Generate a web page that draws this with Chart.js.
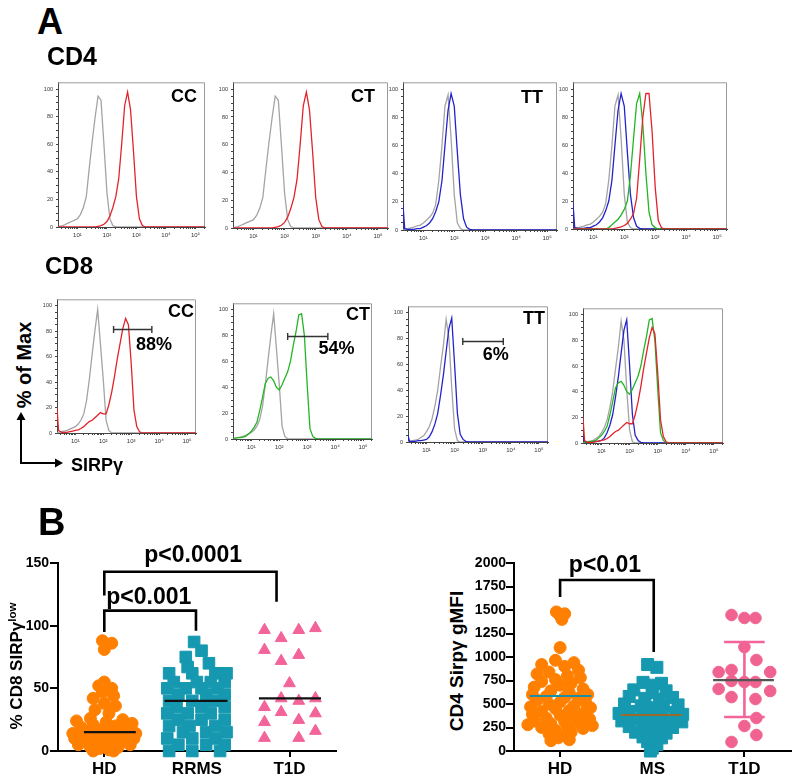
<!DOCTYPE html>
<html>
<head>
<meta charset="utf-8">
<script src="https://cdn.jsdelivr.net/npm/chart.js@4.4.1/dist/chart.umd.min.js"></script>
<style>
body { margin:0; background:#fff; }
#fig { position:relative; width:800px; height:779px; overflow:hidden; font-family:"Liberation Sans", Arial, sans-serif; }
.t { position:absolute; font-weight:bold; line-height:1; white-space:nowrap; color:#000; }
.rot { position:absolute; width:220px; height:24px; line-height:24px; text-align:center; transform:rotate(-90deg); font-weight:bold; white-space:nowrap; color:#000; }
.rot sup { font-size:0.68em; line-height:0; vertical-align:0.55em; }
canvas { position:absolute; }
</style>
</head>
<body>
<div id="fig"></div>
<script>
const FONT = '"Liberation Sans", Arial, sans-serif';
Chart.defaults.font.family = FONT;
Chart.defaults.color = '#000';

// ---------- panel A : histograms (% of max) on log SIRPg channels ----------
const channels = [2.2, 2.5, 3.2, 4, 5, 6.3, 8, 10, 12.6, 15.8, 20, 25, 31.6, 40, 50, 63, 79, 100, 126, 158,
  200, 251, 316, 398, 501, 631, 794, 1000, 1259, 1585, 1995, 2512, 3162, 3981, 5012, 10000, 100000, 210000];

// CD4 row
const grayCD4 = [0, 0.5,1,2,3,4,5,6,9,14,22,42,62,80,95,92,60,25,6,1,0, 0,0,0,0,0,0,0,0,0,0,0,0,0,0, 0,0,0];
const redCD4 = [0, 0,0,0,0,0,0,0,0,0,0,0,0, 0,0.5,1,2,4,8,14,22,35,60,88,98,85,55,22,6,1,0, 0,0,0,0, 0,0,0];
const grayTT = [0, 0.5,1,1.5,2,3,3.5,5,7,9,12,18,35,60,88,96,65,25,5,1,0, 0,0,0,0,0,0,0,0,0,0,0,0,0,0, 0,0,0];
const blueTT = [18, 1,0.5,0.5,0.5,1,1,2,3,5,8,13,20,35,60,85,97,88,55,25,8,2,0.5,0, 0,0,0,0,0,0,0,0,0,0,0, 0,0,0];
const greenCD4 = [0, 0,0,0,0,0,0,0,0,0,0,0, 1,3,5,7,10,14,20,38,65,90,97,75,40,12,3,1,0, 0,0,0,0,0,0, 0,0,0];
const redCD4mix = [0, 0,0,0,0,0,0,0,0,0,0,0,0,0, 0.5,1,1.5,2.5,4,7,11,22,50,80,97,97,70,30,6,1,0, 0,0,0,0, 0,0,0];

// CD8 row
const grayCD8 = [0, 0.5,1,1.5,2,3,4,5,7,10,15,25,42,62,80,97,70,42,10,2,0, 0,0,0,0,0,0,0,0,0,0,0,0,0,0, 0,0,0];
const grayCD8b = [0, 0.5,1,1.5,2,3.5,5,8,12,18,28,40,58,75,95,80,42,10,1,0, 0,0,0,0,0,0,0,0,0,0,0,0,0,0,0, 0,0,0];
const redCD8 = [20, 2,0.5,0.5,0.5,1,1.5,2,2.5,3.5,5,7,9,10,12,14,16,15,15,22,32,44,58,70,82,90,85,55,18,5,1,0, 0,0,0, 0,0,0];
const greenCD8 = [0, 0.5,1,1,1.5,2,4,6,9,13,22,32,43,47,48,45,40,38,42,47,52,60,72,83,96,97,80,42,8,2,0.5,0, 0,0,0, 0,0,0];
const blueCD8 = [5, 0.5,0.5,0.5,1,1,1.5,2,4,8,14,22,36,52,70,88,96,60,22,6,2,0.5,0, 0,0,0,0,0,0,0,0,0,0,0,0, 0,0,0];

// SIRPg-low gates (CD8 row)
const gateFrom = [234, 200, 195];
const gateTo = [5500, 5500, 5400];
const gateLevel = [82, 80, 78];
const gateText = ['88%', '54%', '6%'];
const gateTextX = [6600, 11200, 2900];
const gateTextY = [69, 70, 67];

const powerLabels = { 10: '10¹', 100: '10²', 1000: '10³', 10000: '10⁴', 100000: '10⁵' };

// ---------- panel B : scatter plots ----------
const pctGroups = ['HD', 'RRMS', 'T1D'];
const pctHD = [88,86,81,55,52,50,47,44,42,38,36,33,30,26,25,24,23,22,21,20,19,18,17,16,15,15,14,14,13,12,12,11,11,10,10,9,8,8,7,6,5,5,4,3,3,2,1,0,0];
const pctHDx = [-0.02,0.08,0.0,0.0,-0.06,0.08,-0.02,0.1,-0.12,0.0,0.12,-0.1,0.05,-0.15,0.2,-0.3,0.02,0.3,-0.12,0.12,-0.25,0.25,-0.05,0.06,-0.18,0.18,-0.34,0.34,0.0,-0.25,0.25,-0.1,0.1,-0.32,0.32,0.0,-0.2,0.2,-0.08,0.1,-0.28,0.28,0.0,-0.15,0.15,-0.05,0.05,-0.12,0.1];
const pctRRMS = [87,80,75,70,67, 62,62,62,62, 55,55,55,55, 50,50,50,50, 45,45,45, 40,40,40, 35,35,35, 30,30,30, 25,25,25, 20,20,20, 15,15,15, 10,10,10, 5,5,5, 0,0,0];
const pctRRMSx = [-0.03,0.05,-0.12,0.13,-0.1, -0.3,-0.05,0.2,0.32, -0.25,0.0,0.15,0.3, -0.32,-0.12,0.05,0.22, -0.2,0.1,0.3, -0.3,-0.05,0.18, -0.22,0.05,0.3, -0.32,-0.1,0.15, -0.2,0.05,0.3, -0.3,-0.08,0.2, -0.15,0.1,0.32, -0.32,-0.05,0.2, -0.2,0.1,0.3, -0.3,-0.05,0.25];
const pctT1D = [96.5,90,96.5,98,80.6,76.6,71.8,54,35,42,40,42,31,23,24.7,30,10.4,10.4,16];
const pctT1Dx = [-0.27,-0.09,0.1,0.28,-0.27,0.1,-0.09,0.0,-0.27,-0.09,0.1,0.28,-0.09,-0.27,0.1,0.28,-0.27,0.1,0.28];
const pctMedians = [15, 40, 42];
const pctBrackets = [
  { label: 'p<0.0001', x1: 1, x2: 2.86, top: 143, leftEnd: 124, rightEnd: 119, textX: 1.96, textY: 150.8 },
  { label: 'p<0.001', x1: 1, x2: 1.99, top: 112, leftEnd: 95, rightEnd: 96, textX: 1.48, textY: 117.3 }
];

const mfiGroups = ['HD', 'MS', 'T1D'];
const mfiHD = [1480,1460,1440,1400,1100,965,940,920,900,860,840,820,800,780,760,740,720,700,680,660,640,620,600,600,580,570,560,540,520,510,500,480,470,460,450,430,420,400,390,380,370,350,340,320,310,300,290,280,270,260,250,240,220,200,180,160,140,120,110];
const mfiHDx = [-0.04,0.05,0.0,0.02,0.0,-0.05,0.15,-0.2,0.05,0.2,-0.12,-0.25,0.08,0.22,-0.05,-0.2,0.12,0.0,-0.28,0.25,-0.1,0.1,-0.3,0.3,-0.15,0.05,0.2,-0.25,0.0,0.28,-0.12,0.15,-0.32,0.33,-0.05,0.1,-0.2,0.25,-0.3,0.0,0.15,-0.15,0.32,-0.28,0.05,0.2,-0.1,-0.35,0.35,0.08,-0.2,0.25,-0.05,0.12,-0.12,0.05,-0.02,0.1,-0.1];
const mfiMS = [920,890,730,720,700,650,640,620,580,570,560,550,500,490,480,470,460,420,410,400,390,380,370,360,340,330,320,310,300,290,280,260,250,240,230,200,190,170,150,140,100,70,30,0];
const mfiMSx = [-0.05,0.05,-0.1,0.1,0.0,-0.2,0.15,0.0,-0.25,0.22,-0.08,0.08,-0.3,0.28,-0.12,0.12,0.0,-0.25,0.25,-0.36,0.33,-0.1,0.1,0.0,-0.2,0.2,-0.33,0.32,-0.1,0.08,0.0,-0.25,0.22,-0.08,0.1,-0.18,0.15,0.0,-0.1,0.1,-0.05,0.05,0.0,-0.02];
const mfiT1D = [1447,1415,1415,1106,968,840,862,840,745,734,734,660,638,574,553,351,266,170,96];
const mfiT1Dx = [-0.14,0.0,0.12,0.0,0.13,-0.28,-0.14,0.28,-0.14,0.0,0.12,-0.28,0.28,-0.14,0.12,0.13,0.0,0.13,-0.14];
const mfiMeans = [585, 383, 755];
const mfiT1Dsd = [362, 1160];
const mfiBrackets = [
  { label: 'p<0.01', x1: 1, x2: 2.016, top: 1819, leftEnd: 1638, rightEnd: 1053, textX: 1.487, textY: 1904 }
];

const COLORS = { gray: '#a4a4a4', red: '#e3222b', blue: '#2323cc', green: '#24b524' };
const ORANGE = '#ff8000', TEAL = '#1699b0', PINK = '#f2649a';

const fig = document.getElementById('fig');

function addCanvas(left, top, w, h) {
  const cv = document.createElement('canvas');
  cv.width = w; cv.height = h;
  cv.style.left = left + 'px'; cv.style.top = top + 'px';
  cv.style.width = w + 'px'; cv.style.height = h + 'px';
  fig.appendChild(cv);
  return cv;
}

// ---------- histograms ----------
const YW = 20, XH = 16, PT = 2, PR = 3;

const logTicks = [];
for (let p = 1; p <= 100000; p *= 10) {
  for (let m = 1; m <= 9; m++) {
    const v = m * p;
    if (v >= 2.2 && v <= 210000) logTicks.push(v);
  }
}
const histYTicks = [];
for (let v = 0; v <= 100; v += 5) histYTicks.push(v);

const panelText = {
  id: 'panelText',
  beforeDatasetsDraw(chart) {
    const { ctx, chartArea: a } = chart;
    ctx.save();
    ctx.strokeStyle = '#9a9a9a';
    ctx.lineWidth = 1;
    ctx.beginPath();
    ctx.moveTo(a.left, a.top + 0.5); ctx.lineTo(a.right - 0.5, a.top + 0.5); ctx.lineTo(a.right - 0.5, a.bottom);
    ctx.stroke();
    ctx.restore();
  },
  afterDatasetsDraw(chart, args, opts) {
    const { ctx, chartArea: a, scales: { x, y } } = chart;
    ctx.save();
    ctx.fillStyle = '#000';
    if (opts.label) {
      ctx.font = 'bold 18px ' + FONT;
      ctx.textAlign = 'right';
      ctx.textBaseline = 'alphabetic';
      ctx.fillText(opts.label, a.right - opts.dr, a.top + opts.dt + 13);
    }
    if (opts.gate != null) {
      const g = opts.gate;
      const x1 = x.getPixelForValue(gateFrom[g]), x2 = x.getPixelForValue(gateTo[g]);
      const yy = Math.round(y.getPixelForValue(gateLevel[g])) + 0.5;
      ctx.strokeStyle = '#333';
      ctx.lineWidth = 1.4;
      ctx.beginPath();
      ctx.moveTo(x1, yy); ctx.lineTo(x2, yy);
      ctx.moveTo(x1, yy - 3.5); ctx.lineTo(x1, yy + 3.5);
      ctx.moveTo(x2, yy - 3.5); ctx.lineTo(x2, yy + 3.5);
      ctx.stroke();
      ctx.font = 'bold 18px ' + FONT;
      ctx.textAlign = 'center';
      ctx.textBaseline = 'middle';
      ctx.fillText(gateText[g], x.getPixelForValue(gateTextX[g]), y.getPixelForValue(gateTextY[g]));
    }
    ctx.restore();
  }
};

const histPanels = [
  { box: [58, 78, 205, 227], label: 'CC', dr: 8, dt: 7, curves: [['red', redCD4], ['gray', grayCD4]] },
  { box: [233, 78, 388, 228], label: 'CT', dr: 13, dt: 7, curves: [['red', redCD4], ['gray', grayCD4]] },
  { box: [403, 78, 557, 230], label: 'TT', dr: 14, dt: 8, curves: [['blue', blueTT], ['gray', grayTT]] },
  { box: [573, 78, 727, 229], label: '', curves: [['red', redCD4mix], ['green', greenCD4], ['blue', blueTT], ['gray', grayTT]] },
  { box: [57, 295, 196, 433], label: 'CC', dr: 2, dt: 5, gate: 0, curves: [['red', redCD8], ['gray', grayCD8]] },
  { box: [233, 299, 372, 439], label: 'CT', dr: 2, dt: 4, gate: 1, curves: [['green', greenCD8], ['gray', grayCD8]] },
  { box: [408, 302, 548, 442], label: 'TT', dr: 3, dt: 5, gate: 2, curves: [['blue', blueCD8], ['gray', grayCD8b]] },
  { box: [583, 304, 723, 443], label: '', curves: [['red', redCD8], ['green', greenCD8], ['blue', blueCD8], ['gray', grayCD8b]] }
];

for (const p of histPanels) {
  const [l, t, r, b] = p.box;
  const cv = addCanvas(l - YW, t - PT, r - l + YW + PR, b - t + PT + XH);
  new Chart(cv, {
    type: 'line',
    data: {
      datasets: p.curves.map(([col, vals]) => ({
        data: vals.map((v, i) => ({ x: channels[i], y: v })),
        borderColor: COLORS[col],
        borderWidth: 1.3,
        pointRadius: 0,
        tension: 0,
        fill: false
      }))
    },
    options: {
      responsive: false,
      animation: false,
      events: [],
      layout: { padding: { top: PT, right: PR, left: 0, bottom: 0 } },
      plugins: {
        legend: { display: false },
        tooltip: { enabled: false },
        panelText: { label: p.label, dr: p.dr, dt: p.dt, gate: p.gate }
      },
      scales: {
        x: {
          type: 'logarithmic', min: 2.2, max: 210000,
          afterBuildTicks: s => { s.ticks = logTicks.map(v => ({ value: v })); },
          afterFit: s => { s.height = XH; },
          ticks: { autoSkip: false, maxRotation: 0, padding: 3, color: '#333', font: { size: 6 },
                   callback: v => powerLabels[v] || '' },
          grid: { drawOnChartArea: false, tickLength: 2, color: '#444' },
          border: { color: '#444' }
        },
        y: {
          min: 0, max: 105,
          afterBuildTicks: s => { s.ticks = histYTicks.map(v => ({ value: v })); },
          afterFit: s => { s.width = YW; },
          ticks: { autoSkip: false, padding: 3, color: '#333', font: { size: 5.5 },
                   callback: v => (v % 20 === 0 ? String(v) : '') },
          grid: { drawOnChartArea: false, tickLength: 2, color: '#444' },
          border: { color: '#444' }
        }
      }
    },
    plugins: [panelText]
  });
}

// ---------- dot plots ----------
const bracketText = {
  id: 'bracketText',
  afterDatasetsDraw(chart, args, opts) {
    const { ctx, scales: { x, y } } = chart;
    ctx.save();
    ctx.fillStyle = '#000';
    ctx.font = 'bold 23px ' + FONT;
    ctx.textAlign = 'center';
    ctx.textBaseline = 'alphabetic';
    for (const br of opts.brackets) {
      ctx.fillText(br.label, x.getPixelForValue(br.textX), y.getPixelForValue(br.textY));
    }
    ctx.restore();
  }
};

function pointsOf(vals, jit, center) {
  return vals.map((v, i) => ({ x: center + jit[i], y: v }));
}

function segment(x1, x2, y1, y2, color, width) {
  return {
    type: 'line', data: [{ x: x1, y: y1 }, { x: x2, y: y2 }], borderColor: color, borderWidth: width,
    pointRadius: 0, showLine: true, clip: false, order: 0
  };
}

function bracketSets(list) {
  return list.map(br => ({
    type: 'line',
    data: [{ x: br.x1, y: br.leftEnd }, { x: br.x1, y: br.top }, { x: br.x2, y: br.top }, { x: br.x2, y: br.rightEnd }],
    borderColor: '#000', borderWidth: 2.6, pointRadius: 0, showLine: true, clip: false, order: 0, tension: 0
  }));
}

function dotChart(cv, cfg) {
  return new Chart(cv, {
    type: 'scatter',
    data: { datasets: cfg.datasets },
    options: {
      responsive: false,
      animation: false,
      events: [],
      layout: { padding: { top: 30, right: cfg.padRight, left: 0, bottom: 0 } },
      plugins: { legend: { display: false }, tooltip: { enabled: false }, bracketText: { brackets: cfg.brackets } },
      scales: {
        x: {
          type: 'linear', min: 0.5, max: 3.5,
          afterBuildTicks: s => { s.ticks = [1, 2, 3].map(v => ({ value: v })); },
          afterFit: s => { s.height = 28; },
          ticks: { padding: 2, color: '#000', font: { size: 17, weight: 'bold' },
                   callback: v => cfg.groups[Math.round(v) - 1] },
          grid: { drawOnChartArea: false, tickLength: 6, lineWidth: 2, color: '#000' },
          border: { width: 2, color: '#000' }
        },
        y: {
          min: 0, max: cfg.yMax,
          afterBuildTicks: s => { s.ticks = cfg.yTicks.map(v => ({ value: v })); },
          afterFit: s => { s.width = cfg.yw; },
          ticks: { padding: cfg.yPad, color: '#000', font: { size: 14, weight: 'bold' },
                   callback: v => String(v) },
          grid: { drawOnChartArea: false, tickLength: 8, lineWidth: 2, color: '#000' },
          border: { width: 2, color: '#000' }
        }
      }
    },
    plugins: [bracketText]
  });
}

const dot = (data, color, style, r) => ({
  data, backgroundColor: color, borderColor: color, borderWidth: 1,
  pointStyle: style, pointRadius: r, clip: false, order: 2
});

// left: % CD8 SIRPg low
dotChart(addCanvas(0, 533, 345, 246), {
  groups: pctGroups, yMax: 150, yTicks: [0, 50, 100, 150], yw: 58, yPad: 1, padRight: 5,
  brackets: pctBrackets,
  datasets: [
    dot(pointsOf(pctHD, pctHDx, 1), ORANGE, 'circle', 6),
    dot(pointsOf(pctRRMS, pctRRMSx, 2), TEAL, 'rect', 8.2),
    dot(pointsOf(pctT1D, pctT1Dx, 3), PINK, 'triangle', 6.8),
    segment(0.78, 1.34, pctMedians[0], pctMedians[0], '#111', 2.2),
    segment(1.65, 2.33, pctMedians[1], pctMedians[1], '#111', 2.2),
    segment(2.67, 3.34, pctMedians[2], pctMedians[2], '#111', 2.2),
    ...bracketSets(pctBrackets)
  ]
});

// right: CD4 SIRPg gMFI
const mfiTicks = [];
for (let v = 0; v <= 2000; v += 250) mfiTicks.push(v);
dotChart(addCanvas(470, 533, 330, 246), {
  groups: mfiGroups, yMax: 2000, yTicks: mfiTicks, yw: 44, yPad: 0, padRight: 3,
  brackets: mfiBrackets,
  datasets: [
    dot(pointsOf(mfiHD, mfiHDx, 1), ORANGE, 'circle', 6),
    dot(pointsOf(mfiMS, mfiMSx, 2), TEAL, 'rect', 8.5),
    dot(pointsOf(mfiT1D, mfiT1Dx, 3), '#f0628f', 'circle', 5.8),
    segment(0.67, 1.34, mfiMeans[0], mfiMeans[0], '#1b8fa6', 2.2),
    segment(1.66, 2.32, mfiMeans[1], mfiMeans[1], '#9a6a2a', 2.2),
    segment(2.66, 3.32, mfiMeans[2], mfiMeans[2], '#555', 2.2),
    segment(3, 3, mfiT1Dsd[0], mfiT1Dsd[1], PINK, 2.6),
    segment(2.78, 3.22, mfiT1Dsd[0], mfiT1Dsd[0], PINK, 2.6),
    segment(2.78, 3.22, mfiT1Dsd[1], mfiT1Dsd[1], PINK, 2.6),
    ...bracketSets(mfiBrackets)
  ]
});

// ---------- figure text ----------
const texts = [
  ['A', 37, 4, 36], ['CD4', 47, 44, 25], ['CD8', 45, 254, 24], ['B', 38, 503, 38], ['SIRPγ', 71, 456, 18]
];
for (const [s, x, y, size] of texts) {
  const d = document.createElement('div');
  d.className = 't';
  d.style.left = x + 'px'; d.style.top = y + 'px'; d.style.fontSize = size + 'px';
  d.textContent = s;
  fig.appendChild(d);
}
fig.insertAdjacentHTML('beforeend',
  '<div class="rot" style="left:-86px;top:353px;font-size:20px">% of Max</div>' +
  '<div class="rot" style="left:-93px;top:654px;font-size:17px">% CD8 SIRPγ<sup>low</sup></div>' +
  '<div class="rot" style="left:347px;top:649px;font-size:19px">CD4 Sirpγ gMFI</div>' +
  '<svg style="position:absolute;left:0;top:400px" width="80" height="80">' +
  '<line x1="21" y1="64" x2="21" y2="18" stroke="#000" stroke-width="2"/>' +
  '<polygon points="21,12 16.5,20 25.5,20" fill="#000"/>' +
  '<line x1="20" y1="63" x2="57" y2="63" stroke="#000" stroke-width="2"/>' +
  '<polygon points="63,63 55,58.5 55,67.5" fill="#000"/>' +
  '</svg>');
</script>
</body>
</html>
